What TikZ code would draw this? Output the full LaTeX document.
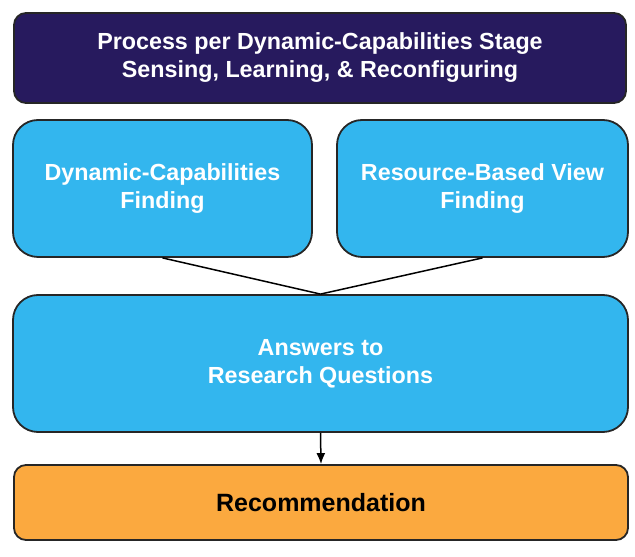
\documentclass[tikz,border=0pt]{standalone}
\usepackage{fontspec}
\setmainfont{Liberation Sans}
\usetikzlibrary{arrows.meta}
\definecolor{stagepurple}{HTML}{271A5E}
\definecolor{findblue}{HTML}{33B6EE}
\definecolor{recorange}{HTML}{FBA93F}
\begin{document}
\begin{tikzpicture} [x=1pt, y=1pt, line width=1.8pt, font=\fontsize{23.3}{28}\selectfont\bfseries,
                box/.style={draw=black!85, rectangle, align=center, inner sep=0pt}]
                \useasboundingbox (0,0) rectangle (635,557);
                \node (Stage) [box, fill=stagepurple, text=white, rounded corners=12pt, minimum width=612pt, minimum height=90pt] at(320,499) {Process per Dynamic-Capabilities Stage\\Sensing, Learning, \& Reconfiguring};
                \node (DCF) [box, fill=findblue, text=white, rounded corners=25pt, minimum width=299pt, minimum height=137pt] at(162.5,368.5) {Dynamic-Capabilities\\Finding};
                \node (RBVF) [box, fill=findblue, text=white, rounded corners=25pt, minimum width=291pt, minimum height=137pt] at(482.5,368.5) {Resource-Based View\\Finding};
                \node (Answers) [box, fill=findblue, text=white, rounded corners=25pt, minimum width=615pt, minimum height=137pt] at(320.5,193.5) {Answers to\\Research Questions};
                \node (Rec) [box, fill=recorange, text=black, rounded corners=12pt, minimum width=614pt, minimum height=75pt, font=\fontsize{25}{30}\selectfont\bfseries] at(321,54.5) {Recommendation};

                \draw[line width=1.5pt] (DCF.south) -- (Answers.north);
                \draw[line width=1.5pt] (RBVF.south) -- (Answers.north);
                \draw[-{Latex[length=11pt,width=9pt]}, line width=1.5pt] (Answers.south) -- (Rec.north);
            \end{tikzpicture}
\end{document}
